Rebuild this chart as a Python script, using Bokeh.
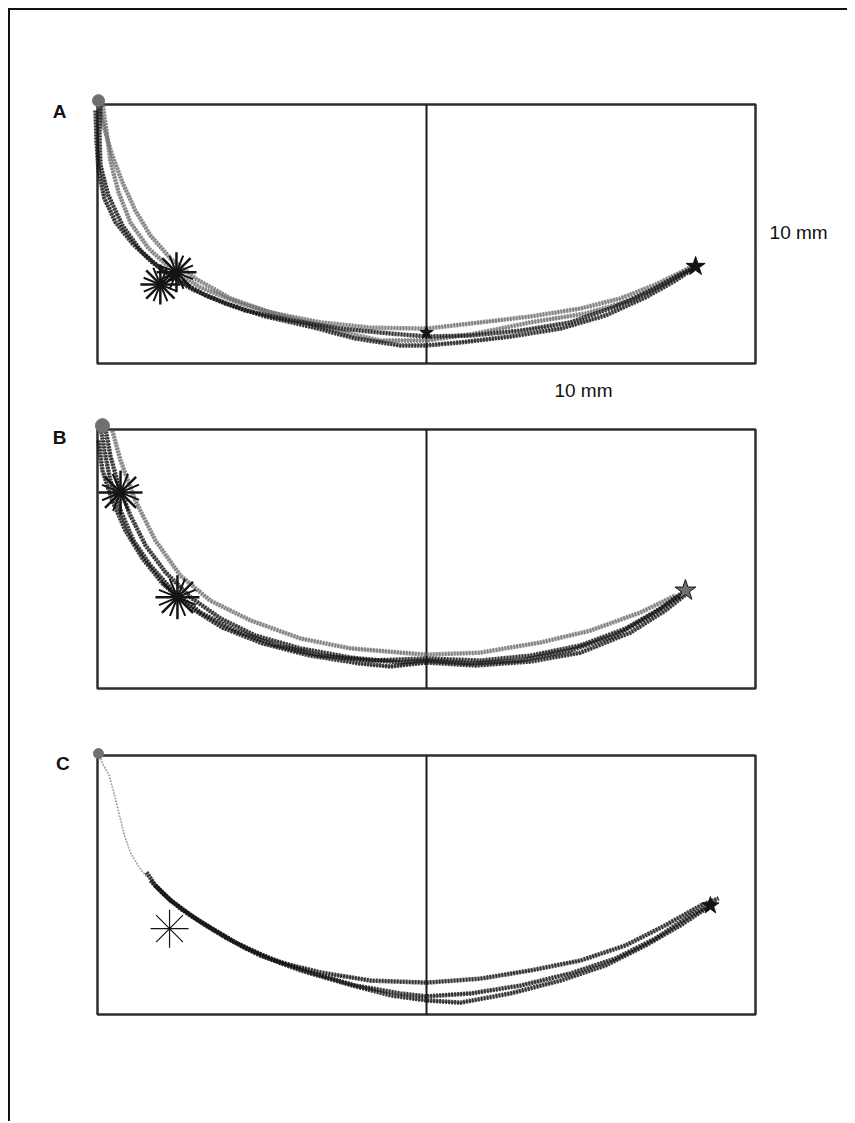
from bokeh.plotting import figure
from bokeh.models import Range1d, BoxAnnotation, Label
from bokeh.layouts import column
from bokeh.embed import file_html
from bokeh.resources import INLINE

# ---------------- data (mm; x = 0 at centre line, y = 0 at box floor) ----------------
BOX_X = [-10.0, 10.0]
BOX_H = 7.87
PANEL_LABELS = ["A", "B", "C"]
SCALE_LABEL = "10 mm"

# Panel A traces
A1_x = [-10.0, -9.82, -9.55, -9.24, -8.85, -8.39, -7.78, -7.02, -5.96, -4.74, -3.22, -1.70, 0.0, 1.64, 3.16, 4.68, 5.90, 6.96, 7.72, 8.18]
A1_y = [8.05, 7.23, 6.32, 5.50, 4.65, 3.89, 3.19, 2.58, 1.98, 1.55, 1.25, 1.09, 1.06, 1.25, 1.43, 1.67, 1.98, 2.40, 2.77, 3.01]
A2_x = [-10.06, -10.03, -9.97, -9.79, -9.45, -8.94, -8.33, -7.63, -6.72, -5.50, -4.13, -2.61, -1.09, 0.0, 1.34, 2.86, 4.38, 5.74, 6.81, 7.72, 8.24]
A2_y = [7.69, 6.78, 5.87, 5.02, 4.29, 3.65, 3.07, 2.58, 2.07, 1.61, 1.31, 1.06, 0.91, 0.82, 0.85, 1.00, 1.25, 1.73, 2.22, 2.71, 2.95]
A3_x = [-9.91, -9.94, -9.91, -9.67, -9.24, -8.69, -8.02, -7.17, -6.11, -4.89, -3.53, -2.16, -0.79, 0.0, 1.03, 2.55, 4.07, 5.44, 6.66, 7.57, 8.12]
A3_y = [7.84, 6.93, 6.02, 5.11, 4.19, 3.43, 2.83, 2.28, 1.82, 1.43, 1.12, 0.76, 0.55, 0.55, 0.64, 0.82, 1.06, 1.46, 2.01, 2.52, 2.89]
A4_x = [-9.85, -9.73, -9.61, -9.36, -9.0, -8.45, -7.78, -6.87, -5.65, -4.29, -2.77, -1.40, 0.0, 1.49, 3.16, 4.83, 6.20, 7.26, 8.02]
A4_y = [7.93, 7.08, 6.17, 5.20, 4.29, 3.50, 2.89, 2.31, 1.82, 1.43, 1.00, 0.70, 0.70, 0.91, 1.25, 1.52, 1.91, 2.43, 2.89]
A_ast_x = [-8.09, -7.60]
A_ast_y = [2.40, 2.77]
A_end_x = [8.18, 0.0]
A_end_y = [2.95, 0.94]
A_start_x = [-9.97]
A_start_y = [7.99]

# Panel B traces
B1_x = [-9.91, -9.79, -9.61, -9.30, -8.91, -8.39, -7.72, -6.87, -5.81, -4.59, -3.22, -1.70, 0.0, 1.64, 3.16, 4.68, 6.05, 7.11, 7.87]
B1_y = [7.99, 7.23, 6.32, 5.41, 4.50, 3.74, 2.98, 2.31, 1.76, 1.31, 1.00, 0.85, 0.91, 0.85, 1.00, 1.31, 1.82, 2.43, 2.98]
B2_x = [-9.76, -9.61, -9.36, -9.0, -8.54, -7.93, -7.17, -6.26, -5.20, -3.83, -2.31, -0.79, 0.0, 1.34, 2.86, 4.38, 5.74, 6.81, 7.72]
B2_y = [7.90, 7.08, 6.17, 5.26, 4.35, 3.53, 2.77, 2.13, 1.61, 1.22, 0.94, 0.79, 0.85, 0.76, 0.85, 1.16, 1.61, 2.22, 2.83]
B3_x = [-9.97, -9.85, -9.55, -9.15, -8.63, -8.02, -7.23, -6.20, -4.98, -3.53, -2.01, -1.09, 0.0, 1.49, 3.16, 4.68, 6.20, 7.26, 7.96]
B3_y = [7.54, 6.63, 5.71, 4.80, 3.95, 3.19, 2.49, 1.85, 1.37, 1.00, 0.76, 0.67, 0.79, 0.70, 0.82, 1.09, 1.70, 2.37, 2.92]
B4_x = [-9.55, -9.30, -8.85, -8.24, -7.48, -6.57, -5.35, -3.83, -2.31, -0.79, 0.0, 1.64, 3.47, 4.98, 6.50, 7.57]
B4_y = [7.84, 6.93, 5.71, 4.50, 3.43, 2.67, 2.07, 1.52, 1.22, 1.09, 1.03, 1.09, 1.40, 1.76, 2.31, 2.83]
B_ast_x = [-9.30, -7.57]
B_ast_y = [5.96, 2.77]
B_end_x = [7.87]
B_end_y = [2.98]
B_start_x = [-9.85]
B_start_y = [7.99]

# Panel C traces
C0_x = [-9.97, -9.82, -9.64, -9.48, -9.33, -9.18, -9.0, -8.75, -8.51]
C0_y = [7.93, 7.57, 7.26, 6.66, 6.05, 5.44, 4.92, 4.50, 4.19]
C1_x = [-8.51, -8.24, -7.78, -7.17, -6.41, -5.50, -4.44, -3.22, -1.70, 0.0, 1.64, 3.16, 4.68, 6.05, 7.26, 8.33, 8.88]
C1_y = [4.32, 3.92, 3.47, 3.01, 2.55, 2.01, 1.58, 1.28, 1.03, 0.97, 1.09, 1.34, 1.64, 2.10, 2.71, 3.31, 3.53]
C2_x = [-8.39, -8.02, -7.48, -6.72, -5.81, -4.74, -3.53, -2.16, -0.79, 0.0, 1.34, 2.86, 4.38, 5.74, 6.96, 8.02, 8.78]
C2_y = [4.07, 3.68, 3.22, 2.71, 2.19, 1.70, 1.28, 0.88, 0.64, 0.55, 0.64, 0.88, 1.25, 1.70, 2.31, 3.01, 3.40]
C3_x = [-8.24, -7.78, -7.02, -6.11, -5.05, -3.83, -2.46, -1.09, 0.0, 1.03, 2.55, 4.07, 5.44, 6.66, 7.72, 8.63]
C3_y = [3.92, 3.47, 2.92, 2.34, 1.79, 1.34, 0.94, 0.58, 0.43, 0.36, 0.64, 1.03, 1.49, 2.10, 2.71, 3.31]
C_ast_x = [-7.81]
C_ast_y = [2.61]
C_end_x = [8.63]
C_end_y = [3.31]
C_start_x = [-9.97]
C_start_y = [7.93]

# ---------------- layout ----------------
PX = 32.9          # pixels per mm
W = 837
CENTER_PX = 416
DARK = "#141414"
GRAY = "#707070"
FONT = "Liberation Sans"


def make_panel(height, floor_px):
    p = figure(width=W, height=height, output_backend="svg", toolbar_location=None,
               x_axis_type=None, y_axis_type=None, min_border=0,
               x_range=Range1d(-CENTER_PX / PX, (W - CENTER_PX) / PX),
               y_range=Range1d(-floor_px / PX, (height - floor_px) / PX))
    p.grid.visible = False
    p.outline_line_color = None
    p.background_fill_color = "white"
    p.border_fill_color = "white"
    p.add_layout(BoxAnnotation(left=BOX_X[0], right=BOX_X[1], bottom=0, top=BOX_H,
                               fill_alpha=0, line_color="#2e2e2e", line_alpha=1.0,
                               line_width=2.5, level="underlay"))
    p.line([0, 0], [0, BOX_H], line_color="#1a1a1a", line_width=2)
    return p


def trace(p, xs, ys, color, width=4.5, alpha=0.85, dash="2 1"):
    p.line(xs, ys, line_color=color, line_width=width, line_alpha=alpha, line_dash=dash)
    p.line(xs, ys, line_color=color, line_width=width * 0.6, line_alpha=alpha * 0.7,
           line_dash="1 2", line_dash_offset=1)


def label(p, txt, x, y, bold=False, size="19px"):
    p.add_layout(Label(x=x, y=y, text=txt, text_font=FONT, text_font_size=size,
                       text_font_style="bold" if bold else "normal",
                       text_align="center", text_baseline="middle", text_color="#111"))


# Panel A
pA = make_panel(395, 42)
for xs, ys, c in [(A1_x, A1_y, GRAY), (A4_x, A4_y, GRAY), (A2_x, A2_y, DARK), (A3_x, A3_y, DARK)]:
    trace(pA, xs, ys, c)
pA.scatter(A_start_x, A_start_y, marker="circle", size=12, fill_color=GRAY, line_color=GRAY)
pA.scatter(A_end_x, A_end_y, marker="star", size=[20, 14], fill_color=DARK, line_color=DARK)
pA.scatter(A_ast_x, A_ast_y, marker="asterisk", size=40, line_color=DARK, line_width=2.5)
pA.scatter(A_ast_x, A_ast_y, marker="asterisk", size=36, line_color=DARK, line_width=2, angle=0.4)
label(pA, PANEL_LABELS[0], -11.15, 7.67, bold=True)
label(pA, SCALE_LABEL, 11.31, 3.98)
label(pA, SCALE_LABEL, 4.77, -0.82)

# Panel B
pB = make_panel(317, 34)
for xs, ys, c in [(B4_x, B4_y, GRAY), (B1_x, B1_y, DARK), (B2_x, B2_y, DARK), (B3_x, B3_y, DARK)]:
    trace(pB, xs, ys, c)
pB.scatter(B_start_x, B_start_y, marker="circle", size=14, fill_color=GRAY, line_color=GRAY)
pB.scatter(B_end_x, B_end_y, marker="star", size=22, fill_color=GRAY, line_color=DARK)
pB.scatter(B_ast_x, B_ast_y, marker="asterisk", size=44, line_color=DARK, line_width=2.5)
pB.scatter(B_ast_x, B_ast_y, marker="asterisk", size=40, line_color=DARK, line_width=2, angle=0.4)
label(pB, PANEL_LABELS[1], -11.15, 7.63, bold=True)

# Panel C
pC = make_panel(399, 107)
trace(pC, C0_x, C0_y, GRAY, width=1.8, alpha=0.8, dash="1 2")
for xs, ys, c in [(C1_x, C1_y, DARK), (C2_x, C2_y, DARK), (C3_x, C3_y, DARK)]:
    trace(pC, xs, ys, c)
pC.scatter(C_start_x, C_start_y, marker="circle", size=10, fill_color=GRAY, line_color=GRAY)
pC.scatter(C_end_x, C_end_y, marker="star", size=18, fill_color=DARK, line_color=DARK)
pC.scatter(C_ast_x, C_ast_y, marker="asterisk", size=38, line_color=DARK, line_width=1.2)
label(pC, PANEL_LABELS[2], -11.05, 7.63, bold=True)

page = column(pA, pB, pC, spacing=0, margin=(8, 0, 0, 8),
              styles={"border-top": "2px solid #111", "border-left": "2px solid #111"})

open("out.html", "w").write(file_html(page, INLINE))
